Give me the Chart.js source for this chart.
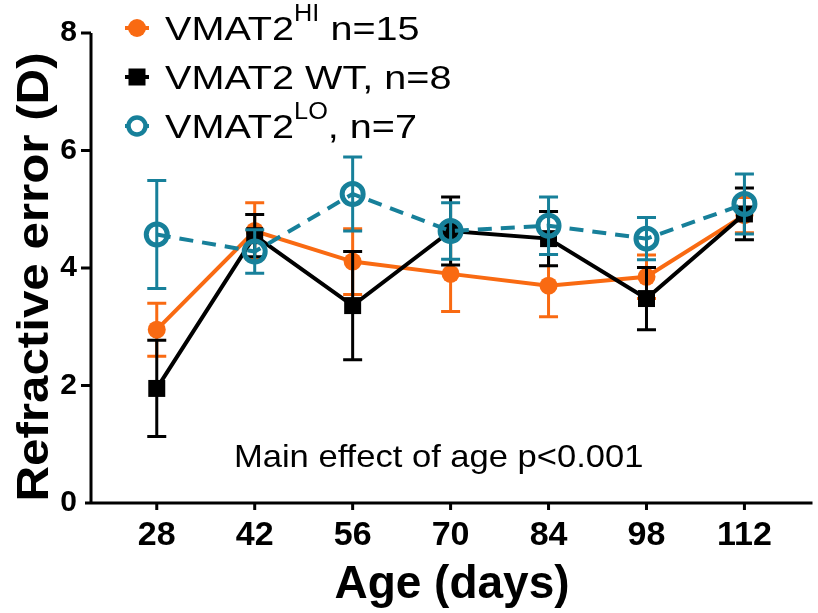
<!DOCTYPE html>
<html>
<head>
<meta charset="utf-8">
<script src="https://cdn.jsdelivr.net/npm/chart.js@4"></script>
<style>
  body { margin: 0; background: #fff; }
  #wrap { width: 818px; height: 613px; position: relative; }
</style>
</head>
<body>
<div id="wrap"><canvas id="chart"></canvas></div>
<script>
// Chart data
const ageDays = [28, 42, 56, 70, 84, 98, 112];
const yTicks = [0, 2, 4, 6, 8];

const hiMean = [2.95, 4.63, 4.11, 3.90, 3.70, 3.85, 4.90];
const hiErr = [0.45, 0.48, 0.56, 0.64, 0.53, 0.37, 0.30];
const wtMean = [1.95, 4.55, 3.36, 4.63, 4.50, 3.48, 4.92];
const wtErr = [0.82, 0.36, 0.92, 0.58, 0.46, 0.53, 0.44];
const loMean = [4.57, 4.28, 5.26, 4.63, 4.72, 4.50, 5.09];
const loErr = [0.92, 0.37, 0.63, 0.48, 0.49, 0.36, 0.51];

const ORANGE = '#F96A12';
const BLACK = '#000000';
const TEAL = '#17809A';
const FONT = "'Liberation Sans', Arial, sans-serif";

function toPoints(means) {
    return ageDays.map((d, i) => ({ x: d, y: means[i] }));
}

// text drawn with a horizontal stretch (the source fonts are wide)
function wideText(ctx, text, x, y, sx) {
    ctx.save();
    ctx.translate(x, y);
    ctx.scale(sx, 1);
    ctx.fillText(text, 0, 0);
    ctx.restore();
    return ctx.measureText(text).width * sx;
}

// Draw SEM bars under each dataset
const errorBars = {
    id: 'errorBars',
    beforeDatasetDraw(chart, args) {
        const ds = chart.data.datasets[args.index];
        const ctx = chart.ctx;
        const y = chart.scales.y;
        ctx.save();
        ctx.strokeStyle = ds.borderColor;
        ctx.lineWidth = 3;
        ctx.setLineDash([]);
        args.meta.data.forEach((pt, i) => {
            const m = ds.data[i].y, e = ds.errors[i];
            const top = y.getPixelForValue(m + e);
            const bot = y.getPixelForValue(m - e);
            ctx.beginPath();
            ctx.moveTo(pt.x, top); ctx.lineTo(pt.x, bot);
            ctx.moveTo(pt.x - 9.5, top); ctx.lineTo(pt.x + 9.5, top);
            ctx.moveTo(pt.x - 9.5, bot); ctx.lineTo(pt.x + 9.5, bot);
            ctx.stroke();
        });
        ctx.restore();
    }
};

// Prism style axis lines, tick marks, titles and note
const axesLines = {
    id: 'axesLines',
    beforeDatasetsDraw(chart) {
        const ctx = chart.ctx;
        const a = chart.chartArea;
        const x = chart.scales.x, y = chart.scales.y;
        ctx.save();
        ctx.strokeStyle = '#000';
        ctx.lineWidth = 3;
        ctx.beginPath();
        ctx.moveTo(a.left, a.top); ctx.lineTo(a.left, a.bottom);
        yTicks.forEach(v => {
            if (v === 0) return;
            const py = y.getPixelForValue(v);
            ctx.moveTo(a.left - 10, py); ctx.lineTo(a.left, py);
        });
        // x axis runs a bit past the plot area on the right
        ctx.moveTo(a.left - 6, a.bottom); ctx.lineTo(Math.min(a.right + 10, chart.width - 3), a.bottom);
        ageDays.forEach(d => {
            const px = x.getPixelForValue(d);
            ctx.moveTo(px, a.bottom); ctx.lineTo(px, a.bottom + 7);
        });
        ctx.stroke();

        ctx.fillStyle = '#000';
        ctx.textBaseline = 'alphabetic';

        // annotation
        ctx.font = '32px ' + FONT;
        ctx.textAlign = 'center';
        wideText(ctx, 'Main effect of age p<0.001', x.getPixelForValue(68.3), y.getPixelForValue(0.61), 1.08);

        // x title
        ctx.font = 'bold 46px ' + FONT;
        ctx.fillText('Age (days)', 452, 598);

        // y title
        ctx.save();
        ctx.translate(48, (a.top + a.bottom) / 2 + 9);
        ctx.rotate(-Math.PI / 2);
        ctx.font = 'bold 44px ' + FONT;
        wideText(ctx, 'Refractive error (D)', 0, 0, 1.12);
        ctx.restore();
        ctx.restore();
    }
};

// Legend with superscripts
const sketchLegend = {
    id: 'sketchLegend',
    afterDraw(chart) {
        const ctx = chart.ctx;
        const rows = [
            { color: ORANGE, kind: 'circle', parts: [['VMAT2', 0], ['HI', 1], [' n=15', 0]] },
            { color: BLACK, kind: 'square', parts: [['VMAT2 WT, n=8', 0]] },
            { color: TEAL, kind: 'ring', parts: [['VMAT2', 0], ['LO', 1], [', n=7', 0]] }
        ];
        const rowY = [28, 77, 126];
        const mx = 137, tx = 165;
        ctx.save();
        rows.forEach((r, i) => {
            const cy = rowY[i];
            ctx.strokeStyle = r.color;
            ctx.fillStyle = r.color;
            ctx.lineWidth = 4;
            ctx.beginPath();
            ctx.moveTo(mx - 12, cy); ctx.lineTo(mx + 12, cy);
            ctx.stroke();
            ctx.beginPath();
            if (r.kind === 'circle') {
                ctx.arc(mx, cy, 9, 0, Math.PI * 2); ctx.fill();
            } else if (r.kind === 'square') {
                ctx.fillRect(mx - 8.5, cy - 8.5, 17, 17);
            } else {
                ctx.lineWidth = 4.5;
                ctx.fillStyle = '#fff';
                ctx.arc(mx, cy, 8.5, 0, Math.PI * 2); ctx.fill(); ctx.stroke();
            }
            let x = tx;
            ctx.fillStyle = '#000';
            ctx.textBaseline = 'alphabetic';
            ctx.textAlign = 'left';
            r.parts.forEach(([t, sup]) => {
                ctx.font = (sup ? '23px ' : '33px ') + FONT;
                x += wideText(ctx, t, x, sup ? cy - 7 : cy + 12, sup ? 1.1 : 1.2);
            });
        });
        ctx.restore();
    }
};

new Chart(document.getElementById('chart'), {
    type: 'line',
    data: {
        datasets: [
            {
                label: 'VMAT2 HI n=15',
                data: toPoints(hiMean),
                errors: hiErr,
                borderColor: ORANGE,
                backgroundColor: ORANGE,
                borderWidth: 4,
                pointRadius: 9,
                pointBorderWidth: 0,
                pointBackgroundColor: ORANGE,
                order: 3
            },
            {
                label: 'VMAT2 WT, n=8',
                data: toPoints(wtMean),
                errors: wtErr,
                borderColor: BLACK,
                backgroundColor: BLACK,
                borderWidth: 4,
                pointStyle: 'rect',
                pointRadius: 12,
                pointBorderWidth: 0,
                pointBackgroundColor: BLACK,
                order: 2
            },
            {
                label: 'VMAT2 LO, n=7',
                data: toPoints(loMean),
                errors: loErr,
                borderColor: TEAL,
                backgroundColor: 'rgba(0,0,0,0)',
                borderWidth: 4,
                borderDash: [14, 9],
                pointRadius: 10.5,
                pointBorderWidth: 5,
                pointBorderColor: TEAL,
                pointBackgroundColor: 'rgba(0,0,0,0)',
                order: 1
            }
        ]
    },
    options: {
        responsive: true,
        maintainAspectRatio: false,
        animation: false,
        clip: false,
        layout: { padding: { top: 33, right: 3, left: 0, bottom: 0 } },
        plugins: { legend: { display: false }, tooltip: { enabled: false } },
        scales: {
            x: {
                type: 'linear',
                min: 18.6,
                max: 120.3,
                afterBuildTicks: s => { s.ticks = ageDays.map(v => ({ value: v })); },
                afterFit: s => { s.height = 110; s.paddingLeft = 0; s.paddingRight = 0; },
                grid: { display: false, drawTicks: false },
                border: { display: false },
                ticks: {
                    color: '#000',
                    padding: 12,
                    maxRotation: 0,
                    font: { family: FONT, size: 34, weight: 'bold' }
                }
            },
            y: {
                min: 0,
                max: 8,
                afterBuildTicks: s => { s.ticks = yTicks.map(v => ({ value: v })); },
                afterFit: s => { s.width = 91; },
                grid: { display: false, drawTicks: false },
                border: { display: false },
                ticks: {
                    color: '#000',
                    padding: 14,
                    font: { family: FONT, size: 30, weight: 'bold' }
                }
            }
        }
    },
    plugins: [errorBars, axesLines, sketchLegend]
});
</script>
</body>
</html>
